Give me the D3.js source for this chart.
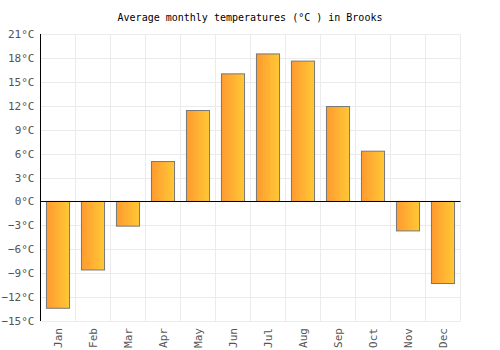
<!DOCTYPE html>
<html>
<head>
<meta charset="utf-8">
<script src="https://cdn.jsdelivr.net/npm/d3@7"></script>
<style>
body { margin: 0; background: #fff; }
svg { font-family: "DejaVu Sans Mono", monospace; }
</style>
</head>
<body>
<svg width="500" height="350"></svg>
<script>
const months = ["Jan", "Feb", "Mar", "Apr", "May", "Jun", "Jul", "Aug", "Sep", "Oct", "Nov", "Dec"];
const temps = [-13.4, -8.6, -3.1, 5.0, 11.4, 16.0, 18.5, 17.6, 11.9, 6.3, -3.7, -10.3];
const yTicks = [-15, -12, -9, -6, -3, 0, 3, 6, 9, 12, 15, 18, 21];

const svg = d3.select("svg");
const area = { left: 40.5, right: 460.5, top: 34, bottom: 321 };

const defs = svg.append("defs");
const grad = defs.append("linearGradient").attr("id", "barGrad")
    .attr("x1", "0%").attr("x2", "100%").attr("y1", "0%").attr("y2", "0%");
grad.append("stop").attr("offset", "0%").attr("stop-color", "#ff9a30");
grad.append("stop").attr("offset", "100%").attr("stop-color", "#ffc935");

const scX = d3.scaleBand()
    .domain(months)
    .range([area.left, area.right])
    .paddingInner(0)
    .paddingOuter(0);
const scY = d3.scaleLinear()
    .domain([-15, 21])
    .range([area.bottom, area.top]);

// grid
const grid = svg.append("g");
grid.selectAll(".hg")
    .data(yTicks)
    .enter()
    .append("line")
    .attr("x1", area.left).attr("x2", area.right)
    .attr("y1", d => Math.round(scY(d)) + 0.5).attr("y2", d => Math.round(scY(d)) + 0.5)
    .attr("stroke", "#ebebeb");
grid.selectAll(".vg")
    .data(months)
    .enter()
    .append("line")
    .attr("x1", d => scX(d) + scX.bandwidth())
    .attr("x2", d => scX(d) + scX.bandwidth())
    .attr("y1", area.top).attr("y2", area.bottom)
    .attr("stroke", "#ebebeb");

// bars
const barW = scX.bandwidth() * 0.66;
svg.append("g").selectAll("rect")
    .data(temps)
    .enter()
    .append("rect")
    .attr("x", (d, i) => scX(months[i]) + (scX.bandwidth() - barW) / 2)
    .attr("y", d => scY(Math.max(0, d)))
    .attr("width", barW)
    .attr("height", d => Math.abs(scY(d) - scY(0)))
    .attr("fill", "url(#barGrad)")
    .attr("stroke", "#777")
    .attr("stroke-width", 1);

// zero line
svg.append("line")
    .attr("x1", area.left).attr("x2", area.right)
    .attr("y1", Math.round(scY(0)) + 0.5).attr("y2", Math.round(scY(0)) + 0.5)
    .attr("stroke", "#000");

// y axis line
svg.append("line")
    .attr("x1", area.left).attr("x2", area.left)
    .attr("y1", area.top).attr("y2", area.bottom)
    .attr("stroke", "#000");

// y labels
svg.append("g").selectAll("text")
    .data(yTicks)
    .enter()
    .append("text")
    .attr("x", area.left - 6)
    .attr("y", d => scY(d) + 4)
    .attr("text-anchor", "end")
    .attr("font-size", 11)
    .attr("fill", "#555")
    .text(d => (d < 0 ? "\u2212" + Math.abs(d) : d) + "°C");

// x labels
svg.append("g").selectAll("text")
    .data(months)
    .enter()
    .append("text")
    .attr("transform", d => `translate(${scX(d) + scX.bandwidth() / 2 + 4}, ${area.bottom + 7}) rotate(-90)`)
    .attr("text-anchor", "end")
    .attr("font-size", 11)
    .attr("fill", "#555")
    .text(d => d);

// title
svg.append("text")
    .attr("x", 250)
    .attr("y", 21)
    .attr("text-anchor", "middle")
    .attr("font-size", 10)
    .attr("fill", "#000")
    .text("Average monthly temperatures (°C ) in Brooks");
</script>
</body>
</html>
